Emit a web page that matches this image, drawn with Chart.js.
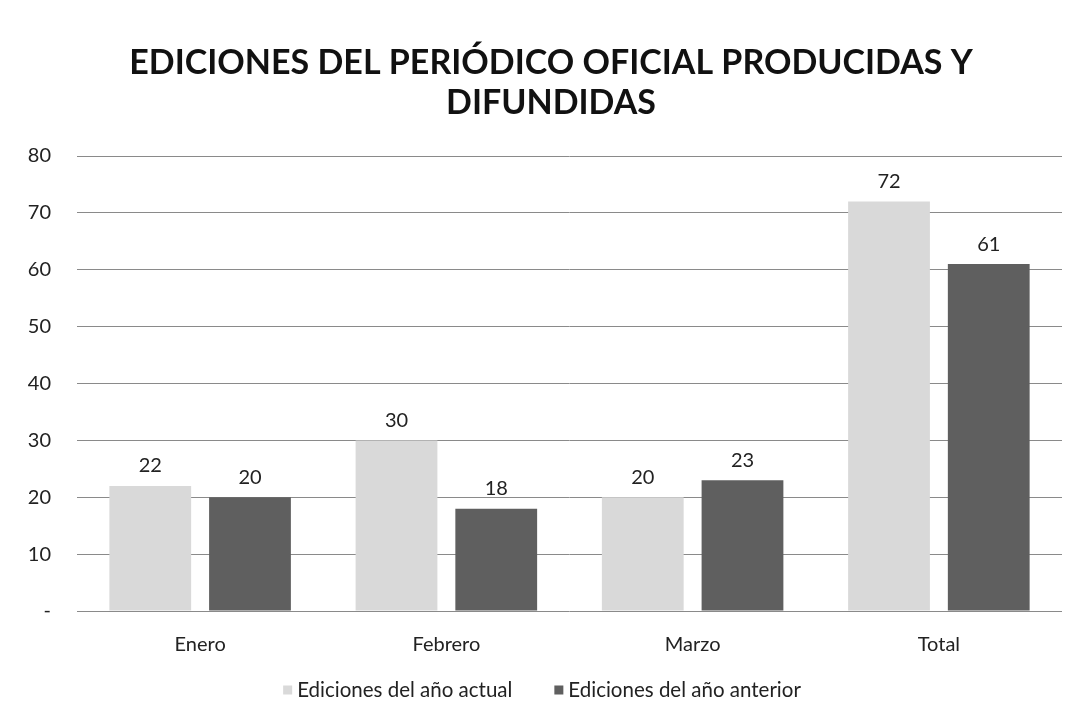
<!DOCTYPE html>
<html><head><meta charset="utf-8">
<script src="https://cdn.jsdelivr.net/npm/chart.js@4"></script>
<style>html,body{margin:0;padding:0;background:#fff}#wrap{width:1066px;height:719px}</style>
</head><body><div id="wrap"><canvas id="c" width="1066" height="719"></canvas></div>
<script>
const categories = ["Enero", "Febrero", "Marzo", "Total"];
const actual = [22, 30, 20, 72];
const anterior = [20, 18, 23, 61];
const seriesNames = ["Ediciones del año actual", "Ediciones del año anterior"];
const seriesColors = ['#d9d9d9', '#5f5f5f'];
const titleLines = ["EDICIONES DEL PERIÓDICO OFICIAL PRODUCIDAS Y", "DIFUNDIDAS"];

const FONT = "Lato, 'Open Sans', sans-serif";

const labelPlugin = {
  id: 'valLabels',
  afterDatasetsDraw(chart) {
    const ctx = chart.ctx;
    ctx.save();
    ctx.font = "20px " + FONT;
    ctx.fillStyle = "#222";
    ctx.textAlign = "center";
    ctx.textBaseline = "bottom";
    chart.data.datasets.forEach((ds, i) => {
      chart.getDatasetMeta(i).data.forEach((bar, j) => {
        ctx.fillText(String(ds.data[j]), bar.x, bar.y - 10);
      });
    });
    ctx.restore();
  }
};

const titlePlugin = {
  id: 'titleDraw',
  afterDraw(chart) {
    const ctx = chart.ctx;
    ctx.save();
    ctx.font = "bold 34px " + FONT;
    ctx.fillStyle = "#111";
    ctx.textAlign = "center";
    ctx.textBaseline = "middle";
    const cx = chart.width / 2 + 18;
    titleLines.forEach((t, i) => ctx.fillText(t, cx, 63 + i * 40));
    ctx.restore();
  }
};

const legendPlugin = {
  id: 'legendDraw',
  afterDraw(chart) {
    const ctx = chart.ctx;
    ctx.save();
    ctx.font = "20.5px " + FONT;
    ctx.textBaseline = "middle";
    ctx.textAlign = "left";
    const box = 9, boxGap = 5, itemGap = 42;
    const widths = seriesNames.map(n => ctx.measureText(n).width);
    const total = widths.reduce((a, w) => a + box + boxGap + w, 0) + itemGap * (seriesNames.length - 1);
    let x = 542 - total / 2;
    const y = 690;
    seriesNames.forEach((n, i) => {
      ctx.fillStyle = seriesColors[i];
      ctx.fillRect(x, y - box / 2, box, box);
      x += box + boxGap;
      ctx.fillStyle = "#222";
      ctx.fillText(n, x, y);
      x += widths[i] + itemGap;
    });
    ctx.restore();
  }
};

new Chart(document.getElementById('c'), {
  type: 'bar',
  data: {
    labels: categories,
    datasets: [
      { label: seriesNames[0], data: actual, backgroundColor: seriesColors[0], borderWidth: 0 },
      { label: seriesNames[1], data: anterior, backgroundColor: seriesColors[1], borderWidth: 0 }
    ]
  },
  options: {
    responsive: false,
    animation: false,
    layout: { padding: { left: 2, right: 4, top: 156, bottom: 48 } },
    datasets: { bar: { categoryPercentage: 0.81, barPercentage: 0.82 } },
    plugins: {
      title: { display: false },
      legend: { display: false },
      tooltip: { enabled: false }
    },
    scales: {
      x: {
        grid: { display: false },
        border: { display: false },
        ticks: { color: '#222', font: { family: FONT, size: 20 }, padding: 14 }
      },
      y: {
        min: 0, max: 80,
        afterFit: s => { s.width = 75; },
        ticks: { stepSize: 10, color: '#222', font: { family: FONT, size: 20 }, padding: 26,
                 callback: v => v === 0 ? '-' : v },
        grid: { color: '#8a8a8a', lineWidth: 1, drawTicks: false },
        border: { display: false }
      }
    }
  },
  plugins: [labelPlugin, titlePlugin, legendPlugin]
});
</script></body></html>
